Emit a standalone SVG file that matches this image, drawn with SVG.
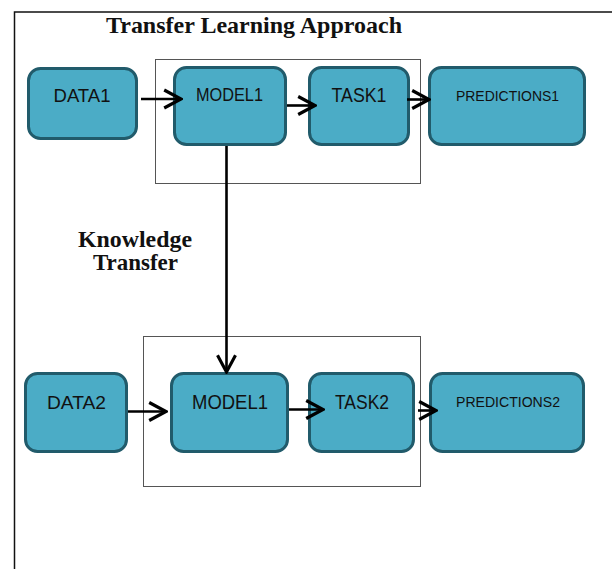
<svg xmlns="http://www.w3.org/2000/svg" width="612" height="569" viewBox="0 0 612 569">
<style>
.node{fill:#4BACC6;stroke:#215B6B;stroke-width:3}
.lbl{font-family:"Liberation Sans",Arial,sans-serif;fill:#111;text-anchor:middle}
.ttl{font-family:"Liberation Serif","Times New Roman",serif;font-weight:bold;fill:#111;text-anchor:middle}
.frame{fill:none;stroke:#555;stroke-width:1}
.conn{fill:none;stroke:#000;stroke-width:2.6}
</style>
<defs>
<marker id="arr" markerUnits="userSpaceOnUse" markerWidth="24" markerHeight="24" viewBox="-18 -10 20 20" refX="0" refY="0" orient="auto">
<path d="M-14,-7.5 L0,0 L-14,7.5" fill="none" stroke="#000" stroke-width="2.6" stroke-linejoin="miter"/>
</marker>
</defs>
<rect width="612" height="569" fill="#fff"/>
<path d="M14.5,569 L14.5,12 L612,12" fill="none" stroke="#111" stroke-width="1.5"/>
<text class="ttl" x="254" y="33" font-size="23.5" textLength="296" lengthAdjust="spacingAndGlyphs">Transfer Learning Approach</text>
<g id="frame-top"><rect class="frame" x="155.5" y="59.5" width="265" height="124"/></g>
<g id="frame-bottom"><rect class="frame" x="143.5" y="336.5" width="277" height="150"/></g>
<g id="knowledge-label">
<text class="ttl" x="135" y="247" font-size="23" textLength="114" lengthAdjust="spacingAndGlyphs">Knowledge</text>
<text class="ttl" x="135.5" y="270" font-size="23" textLength="85" lengthAdjust="spacingAndGlyphs">Transfer</text>
</g>
<g id="data1"><rect class="node" x="28.5" y="68.5" width="108" height="70" rx="12"/><text class="lbl" x="82" y="102" font-size="18.5" textLength="57" lengthAdjust="spacingAndGlyphs">DATA1</text></g>
<g id="model1-top"><rect class="node" x="174.5" y="67.5" width="111" height="77" rx="12"/><text class="lbl" x="229.5" y="101" font-size="19" textLength="67" lengthAdjust="spacingAndGlyphs">MODEL1</text></g>
<g id="task1"><rect class="node" x="309.5" y="67.5" width="99" height="77" rx="12"/><text class="lbl" x="359" y="102" font-size="19.5" textLength="55" lengthAdjust="spacingAndGlyphs">TASK1</text></g>
<g id="predictions1"><rect class="node" x="429.5" y="67.5" width="155" height="77" rx="12"/><text class="lbl" x="507.5" y="101" font-size="15.5" textLength="103" lengthAdjust="spacingAndGlyphs">PREDICTIONS1</text></g>
<g id="data2"><rect class="node" x="25.5" y="373.5" width="101" height="78" rx="12"/><text class="lbl" x="76.5" y="409" font-size="19" textLength="59" lengthAdjust="spacingAndGlyphs">DATA2</text></g>
<g id="model1-bottom"><rect class="node" x="171.5" y="373.5" width="116" height="78" rx="12"/><text class="lbl" x="230" y="409" font-size="21" textLength="76" lengthAdjust="spacingAndGlyphs">MODEL1</text></g>
<g id="task2"><rect class="node" x="309.5" y="373.5" width="104" height="78" rx="12"/><text class="lbl" x="362" y="409" font-size="19.5" textLength="54" lengthAdjust="spacingAndGlyphs">TASK2</text></g>
<g id="predictions2"><rect class="node" x="430.5" y="373.5" width="153" height="78" rx="12"/><text class="lbl" x="508" y="407" font-size="15.5" textLength="104" lengthAdjust="spacingAndGlyphs">PREDICTIONS2</text></g>
<g id="connectors">
<line class="conn" x1="141" y1="99" x2="181" y2="99" marker-end="url(#arr)"/>
<line class="conn" x1="287" y1="105.5" x2="315" y2="105.5" marker-end="url(#arr)"/>
<line class="conn" x1="407" y1="99.5" x2="429" y2="99.5" marker-end="url(#arr)"/>
<line class="conn" x1="226.5" y1="146" x2="226.5" y2="372" marker-end="url(#arr)"/>
<line class="conn" x1="128" y1="411.5" x2="166" y2="411.5" marker-end="url(#arr)"/>
<line class="conn" x1="289" y1="409.5" x2="323" y2="409.5" marker-end="url(#arr)"/>
<line class="conn" x1="418" y1="410.5" x2="436" y2="410.5" marker-end="url(#arr)"/>
</g>
</svg>
